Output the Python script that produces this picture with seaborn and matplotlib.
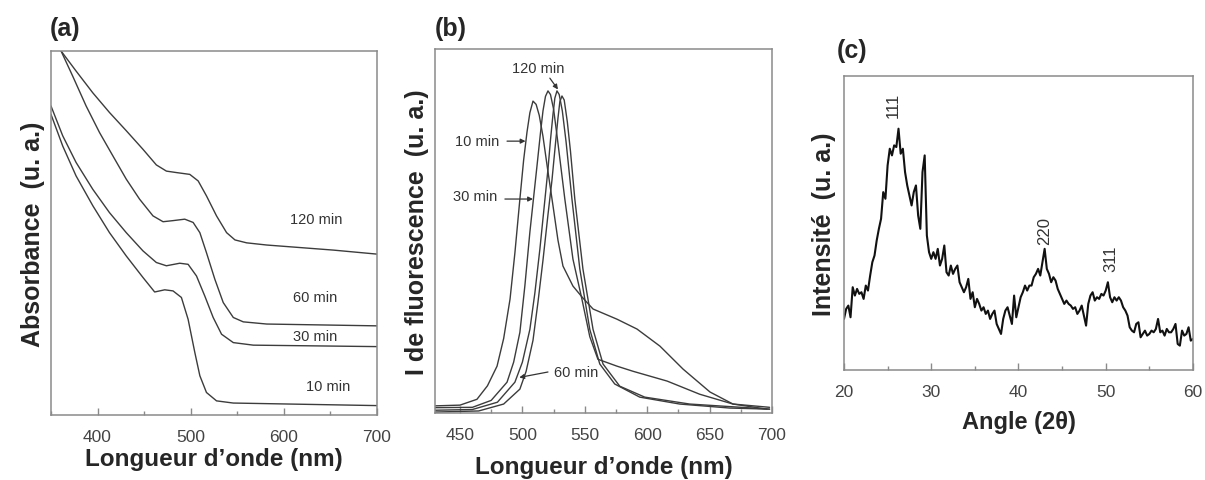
import numpy as np
import pandas as pd
import matplotlib
matplotlib.use("Agg")
import matplotlib.pyplot as plt
import seaborn as sns
from matplotlib.ticker import MultipleLocator

# ---------------- data: (a) absorbance ----------------
abs_120_x = [350, 360.8, 376.9, 394.9, 412.8, 430.8, 448.7, 463.1, 473.9, 484.6, 499.0, 508.0, 516.9,
             527.7, 538.5, 547.5, 560.0, 581.6, 617.5, 653.4, 700]
abs_120_y = [103.5, 100, 94.5, 88.5, 83.1, 78.1, 73.0, 68.7, 67.0, 66.6, 66.1, 64.3, 60.2,
             54.7, 50.1, 48.1, 47.3, 46.7, 46.0, 45.3, 44.2]

abs_60_x = [350, 360.8, 373.3, 387.7, 402.1, 416.4, 430.8, 445.1, 459.5, 470.3, 481.0, 493.6, 502.6,
            509.8, 516.9, 525.9, 534.9, 545.7, 556.4, 581.6, 700]
abs_60_y = [106.0, 100, 93.1, 84.9, 77.6, 71.2, 64.8, 59.3, 54.7, 53.1, 53.4, 53.8, 52.9,
            50.1, 44.6, 37.3, 30.9, 26.8, 25.6, 25.0, 24.5]

abs_30_x = [350, 362.6, 376.9, 394.9, 412.8, 430.8, 448.7, 463.1, 473.9, 488.2, 497.2, 506.2, 515.1,
            524.1, 533.1, 545.7, 567.2, 700]
abs_30_y = [84.9, 76.7, 69.4, 62.0, 55.6, 50.1, 45.1, 41.9, 41.0, 41.7, 41.4, 38.2, 32.7,
            26.8, 22.2, 19.9, 19.2, 18.8]

abs_10_x = [350, 362.6, 376.9, 394.9, 412.8, 430.8, 448.7, 461.3, 472.1, 481.0, 490.0, 497.2, 504.4,
            509.8, 516.9, 527.7, 545.7, 700]
abs_10_y = [82.6, 73.9, 65.7, 57.5, 50.1, 43.7, 37.8, 33.8, 34.4, 34.1, 32.3, 26.3, 17.2,
            10.8, 6.2, 3.9, 3.3, 2.6]

abs_labels = ["120 min", "60 min", "30 min", "10 min"]
abs_label_x = [635, 634, 634, 648]
abs_label_y = [53.8, 32.3, 21.8, 8.1]

# ---------------- data: (b) fluorescence ----------------
fl_10_x = [430, 450, 463.6, 472, 479.7, 485, 490.1, 494, 498, 501, 503.7, 506, 508.5, 511, 513.5,
           516.5, 520, 524.5, 528.5, 532.5, 540.5, 548, 556.6, 575.8, 591.8, 610.2, 628.7, 650.3,
           668.7, 698]
fl_10_y = [2.0, 2.2, 3.8, 7.5, 12.9, 20.5, 31.3, 44.0, 58.8, 69.5, 77.2, 82.5, 85.7, 84.8, 81.8,
           76.0, 67.5, 57.0, 47.5, 40.4, 34.9, 31.8, 28.6, 25.8, 23.1, 18.4, 12.1, 5.8,
           2.5, 1.6]

fl_30_x = [430, 460, 475, 487.7, 493, 498, 502, 506, 511.7, 514.5, 516.5, 518.5, 520.5, 522.5, 525,
           528, 534, 540.5, 547.7, 554, 560.5, 575.8, 588.6, 616, 642, 668.7, 696]
fl_30_y = [1.5, 1.6, 3.5, 8.5, 14.0, 22.2, 35.0, 49.7, 67.9, 77.0, 83.0, 87.0, 88.5, 87.5, 83.5,
           75.5, 58.8, 42.3, 31.3, 21.0, 14.8, 12.9, 11.5, 8.8, 5.2, 2.5, 1.1]

fl_120_x = [430, 460, 480, 494, 500, 506, 510, 514, 518, 520.5, 522.5, 524.5, 526, 527.7, 529.5,
            532, 535, 539.7, 546, 554, 562, 574, 594, 626, 666, 698]
fl_120_y = [0.8, 1.0, 3.0, 8.5, 14.0, 23.0, 33.0, 45.0, 58.5, 67.0, 75.0, 82.0, 86.5, 88.5, 87.5,
            83.0, 74.5, 58.8, 39.6, 23.0, 13.5, 8.0, 4.4, 2.5, 1.4, 1.1]

fl_60_x = [430, 465, 485, 498, 503, 508.5, 512.5, 516.5, 520.5, 523.7, 526.5, 528.5, 530, 531.7, 533.5,
           536, 538.5, 542, 548.5, 556.6, 564.6, 578, 598, 634, 698]
fl_60_y = [0.3, 0.6, 2.5, 6.6, 11.5, 20.0, 30.5, 42.0, 54.5, 64.0, 74.0, 81.0, 85.5, 87.1, 86.0,
           80.0, 72.0, 58.8, 39.6, 23.0, 13.5, 7.4, 4.4, 2.5, 1.1]

# ---------------- data: (c) XRD ----------------
xrd_angle = [20.00, 20.25, 20.50, 20.75, 21.00, 21.25, 21.50, 21.75, 22.00, 22.25,
             22.50, 22.75, 23.00, 23.25, 23.50, 23.75, 24.00, 24.25, 24.50, 24.75,
             25.00, 25.25, 25.50, 25.75, 26.00, 26.25, 26.50, 26.75, 27.00, 27.25,
             27.50, 27.75, 28.00, 28.25, 28.50, 28.75, 29.00, 29.25, 29.50, 29.75,
             30.00, 30.25, 30.50, 30.75, 31.00, 31.25, 31.50, 31.75, 32.00, 32.25,
             32.50, 32.75, 33.00, 33.25, 33.50, 33.75, 34.00, 34.25, 34.50, 34.75,
             35.00, 35.25, 35.50, 35.75, 36.00, 36.25, 36.50, 36.75, 37.00, 37.25,
             37.50, 37.75, 38.00, 38.25, 38.50, 38.75, 39.00, 39.25, 39.50, 39.75,
             40.00, 40.25, 40.50, 40.75, 41.00, 41.25, 41.50, 41.75, 42.00, 42.25,
             42.50, 42.75, 43.00, 43.25, 43.50, 43.75, 44.00, 44.25, 44.50, 44.75,
             45.00, 45.25, 45.50, 45.75, 46.00, 46.25, 46.50, 46.75, 47.00, 47.25,
             47.50, 47.75, 48.00, 48.25, 48.50, 48.75, 49.00, 49.25, 49.50, 49.75,
             50.00, 50.25, 50.50, 50.75, 51.00, 51.25, 51.50, 51.75, 52.00, 52.25,
             52.50, 52.75, 53.00, 53.25, 53.50, 53.75, 54.00, 54.25, 54.50, 54.75,
             55.00, 55.25, 55.50, 55.75, 56.00, 56.25, 56.50, 56.75, 57.00, 57.25,
             57.50, 57.75, 58.00, 58.25, 58.50, 58.75, 59.00, 59.25, 59.50, 59.75,
             60.00]
xrd_intensity = [153, 183, 193, 158, 248, 223, 243, 228, 233, 213,
                 253, 238, 283, 323, 343, 388, 423, 453, 533, 513,
                 613, 663, 643, 673, 668, 723, 648, 663, 593, 553,
                 523, 493, 533, 553, 463, 423, 593, 643, 403, 353,
                 333, 353, 333, 363, 313, 333, 373, 293, 283, 313,
                 288, 303, 313, 263, 248, 233, 248, 273, 213, 233,
                 188, 213, 198, 178, 188, 168, 178, 153, 168, 178,
                 138, 123, 108, 153, 178, 188, 163, 138, 223, 158,
                 188, 218, 233, 253, 238, 253, 253, 278, 288, 303,
                 283, 323, 363, 303, 288, 263, 278, 268, 243, 228,
                 213, 198, 208, 198, 193, 183, 188, 168, 178, 193,
                 163, 133, 198, 223, 233, 208, 218, 213, 228, 223,
                 238, 263, 218, 203, 218, 208, 218, 208, 188, 178,
                 163, 128, 118, 113, 138, 143, 98, 108, 118, 103,
                 108, 118, 113, 123, 153, 113, 118, 103, 123, 113,
                 113, 123, 138, 78, 73, 118, 103, 108, 128, 88,
                 93]
xrd_peaks = ["111", "220", "311"]
xrd_peak_x = [25.6, 43.0, 50.6]
xrd_peak_y = [759, 378, 298]

# ---------------- style ----------------
sns.set_theme(style="white")
plt.rcParams["font.family"] = ["Liberation Sans", "DejaVu Sans"]

LINE = "#3c3c3c"
SPINE = "#8a8a8a"
TICKC = "#444444"

fig = plt.figure(figsize=(12.05, 4.81), dpi=100)
axA = fig.add_axes([0.0423, 0.135, 0.2706, 0.757])
axB = fig.add_axes([0.361, 0.139, 0.2797, 0.757])
axC = fig.add_axes([0.7004, 0.2287, 0.2896, 0.6113])


def style_axis(ax):
    for s in ax.spines.values():
        s.set_color(SPINE)
        s.set_linewidth(1.1)
    ax.set_yticks([])
    ax.tick_params(axis="x", which="both", direction="in", bottom=True, top=False,
                   colors=SPINE, labelcolor=TICKC, labelsize=12.5, pad=10)
    ax.tick_params(axis="x", which="major", length=5, width=1.0)
    ax.tick_params(axis="x", which="minor", length=3, width=1.0)


# (a)
for xs, ys in [(abs_120_x, abs_120_y), (abs_60_x, abs_60_y), (abs_30_x, abs_30_y), (abs_10_x, abs_10_y)]:
    sns.lineplot(x=xs, y=ys, ax=axA, color=LINE, linewidth=1.0, sort=False, estimator=None)
for t, x, y in zip(abs_labels, abs_label_x, abs_label_y):
    axA.text(x, y, t, fontsize=10.5, color="#333333", ha="center", va="center")
axA.set_xlim(350, 700)
axA.set_ylim(0, 100)
axA.xaxis.set_major_locator(MultipleLocator(100))
axA.xaxis.set_minor_locator(MultipleLocator(50))
style_axis(axA)
axA.set_xlabel("Longueur d’onde (nm)", fontsize=17.5, fontweight="bold", labelpad=2)
axA.set_ylabel("Absorbance  (u. a.)", fontsize=18, fontweight="bold", labelpad=4)
fig.text(0.041, 0.915, "(a)", fontsize=18, fontweight="bold", ha="left", va="bottom")

# (b)
for xs, ys in [(fl_10_x, fl_10_y), (fl_30_x, fl_30_y), (fl_120_x, fl_120_y), (fl_60_x, fl_60_y)]:
    sns.lineplot(x=xs, y=ys, ax=axB, color=LINE, linewidth=1.0, sort=False, estimator=None)
axB.set_xlim(430, 700)
axB.set_ylim(0, 100)
axB.xaxis.set_major_locator(MultipleLocator(50))
axB.xaxis.set_minor_locator(MultipleLocator(25))
style_axis(axB)
arrow = dict(arrowstyle="-|>", color="#333333", lw=0.9, mutation_scale=7, shrinkA=0, shrinkB=0)
axB.text(512.5, 94.8, "120 min", fontsize=10.5, color="#333333", ha="center", va="center")
axB.annotate("", xy=(528.5, 88.9), xytext=(522, 92.0), arrowprops=arrow)
axB.text(463.6, 74.7, "10 min", fontsize=10.5, color="#333333", ha="center", va="center")
axB.annotate("", xy=(502.5, 74.7), xytext=(487.7, 74.7), arrowprops=arrow)
axB.text(462, 59.6, "30 min", fontsize=10.5, color="#333333", ha="center", va="center")
axB.annotate("", xy=(508.5, 58.8), xytext=(486, 58.8), arrowprops=arrow)
axB.text(543, 11.3, "60 min", fontsize=10.5, color="#333333", ha="center", va="center")
axB.annotate("", xy=(497.5, 9.8), xytext=(520.5, 11.3), arrowprops=arrow)
axB.set_xlabel("Longueur d’onde (nm)", fontsize=17.5, fontweight="bold", labelpad=9)
axB.set_ylabel("I de fluorescence  (u. a.)", fontsize=18, fontweight="bold", labelpad=4)
fig.text(0.361, 0.915, "(b)", fontsize=18, fontweight="bold", ha="left", va="bottom")

# (c)
sns.lineplot(x=xrd_angle, y=xrd_intensity, ax=axC, color="#111111", linewidth=1.5,
             sort=False, estimator=None)
for t, x, y in zip(xrd_peaks, xrd_peak_x, xrd_peak_y):
    axC.text(x, y, t, fontsize=12, color="#333333", ha="center", va="bottom", rotation=90)
axC.set_xlim(20, 60)
axC.set_ylim(0, 881)
axC.xaxis.set_major_locator(MultipleLocator(10))
axC.xaxis.set_minor_locator(MultipleLocator(5))
style_axis(axC)
axC.set_xlabel("Angle (2θ)", fontsize=17, fontweight="bold", labelpad=8)
axC.set_ylabel("Intensité  (u. a.)", fontsize=18, fontweight="bold", labelpad=6)
fig.text(0.694, 0.87, "(c)", fontsize=18, fontweight="bold", ha="left", va="bottom")

fig.savefig("out.png", dpi=100, facecolor="white")
